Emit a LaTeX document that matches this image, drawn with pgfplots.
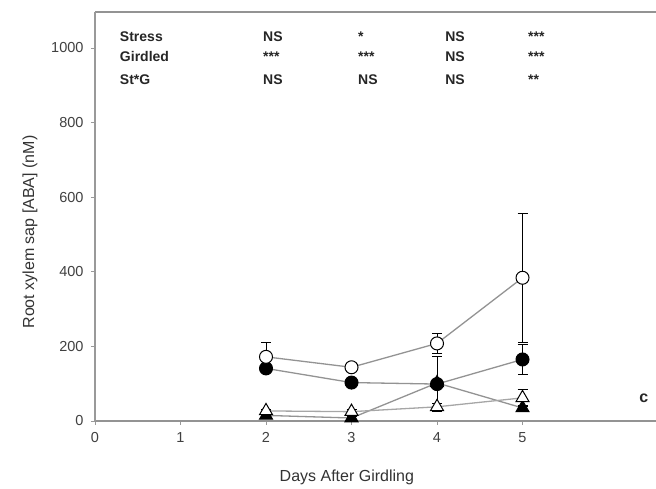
\documentclass[border=0pt]{standalone}
\usepackage{fontspec}
\setmainfont{Liberation Sans}
\usepackage{pgfplots}
\pgfplotsset{compat=1.18}
\begin{document}
\begin{tikzpicture}
\path[use as bounding box] (-95pt,-68pt) rectangle (561pt,421pt);
\begin{axis}[
  at={(0,0)}, anchor=south west,
  scale only axis, width=575pt, height=409pt,
  xmin=0, xmax=6.725, ymin=0, ymax=1096.5,
  axis x line=box, axis y line*=left,
  x axis line style={draw=gray!85, line width=1.6pt},
  y axis line style={draw=gray!80, line width=1.1pt},
  xtick={0,1,2,3,4,5}, ytick={0,200,400,600,800,1000},
  xtick pos=bottom, ytick pos=left,
  tick align=outside, major tick length=4pt,
  tick style={draw=gray!80, line width=0.8pt},
  /pgf/number format/assume math mode=true,
  /pgf/number format/1000 sep={},
  ticklabel style={font=\fontsize{14.5}{16}\selectfont, text=black!75},
  xticklabel style={yshift=-4pt},
  yticklabel style={xshift=-4pt},
  xlabel={Days After Girdling},
  ylabel={Root xylem sap [ABA] (nM)},
  label style={font=\fontsize{16}{18}\selectfont, text=black!80},
  xlabel style={at={(axis description cs:0.438,0)}, anchor=center, yshift=-56pt},
  ylabel style={at={(axis description cs:-0.113,0.462)}, anchor=center, rotate=0},
  clip=false,
  error bars/y dir=both, error bars/y explicit,
  error bars/error mark options={rotate=90, mark size=5pt, black, line width=0.8pt},
  error bars/error bar style={black, line width=0.8pt},
]
% filled triangles
\addplot[gray!85, line width=1.3pt, mark=triangle*, mark size=7.5pt,
  mark options={draw=black, fill=black, line width=1pt}]
  table[x=x, y=y, y error=e] {
x y e
2 15 3
3 8 3
4 102 10
5 35 8
};
% open triangles
\addplot[gray!70, line width=1.3pt, mark=triangle*, mark size=7.5pt,
  mark options={draw=black, fill=white, line width=1pt}]
  table[x=x, y=y, y error=e] {
x y e
2 27 5
3 25 5
4 38 10
5 62 22
};
% filled circles
\addplot[gray!85, line width=1.3pt, mark=*, mark size=6.5pt,
  mark options={draw=black, fill=black, line width=1pt}]
  table[x=x, y=y, y error=e] {
x y e
2 141 10
3 103 8
4 99 73
5 165 40
};
% open circles
\addplot[gray!85, line width=1.3pt, mark=*, mark size=6.5pt,
  mark options={draw=black, fill=white, line width=1pt}]
  table[x=x, y=y, y error=e] {
x y e
2 172 38
3 144 8
4 208 27
5 384 173
};
\begin{scope}[every node/.style={font=\fontsize{14}{16}\selectfont\bfseries, text=black!85, anchor=west, inner sep=0pt}]
\node at (axis cs:0.29,1029) {Stress};
\node at (axis cs:0.29,976) {Girdled};
\node at (axis cs:0.29,914) {St*G};
\node at (axis cs:1.965,1029) {NS};
\node at (axis cs:1.965,976) {***};
\node at (axis cs:1.965,914) {NS};
\node at (axis cs:3.076,1029) {*};
\node at (axis cs:3.076,976) {***};
\node at (axis cs:3.076,914) {NS};
\node at (axis cs:4.094,1029) {NS};
\node at (axis cs:4.094,976) {NS};
\node at (axis cs:4.094,914) {NS};
\node at (axis cs:5.064,1029) {***};
\node at (axis cs:5.064,976) {***};
\node at (axis cs:5.064,914) {**};
\node[anchor=center, font=\fontsize{16}{18}\selectfont\bfseries] at (axis cs:6.42,62) {c};
\end{scope}
\end{axis}
\end{tikzpicture}
\end{document}
